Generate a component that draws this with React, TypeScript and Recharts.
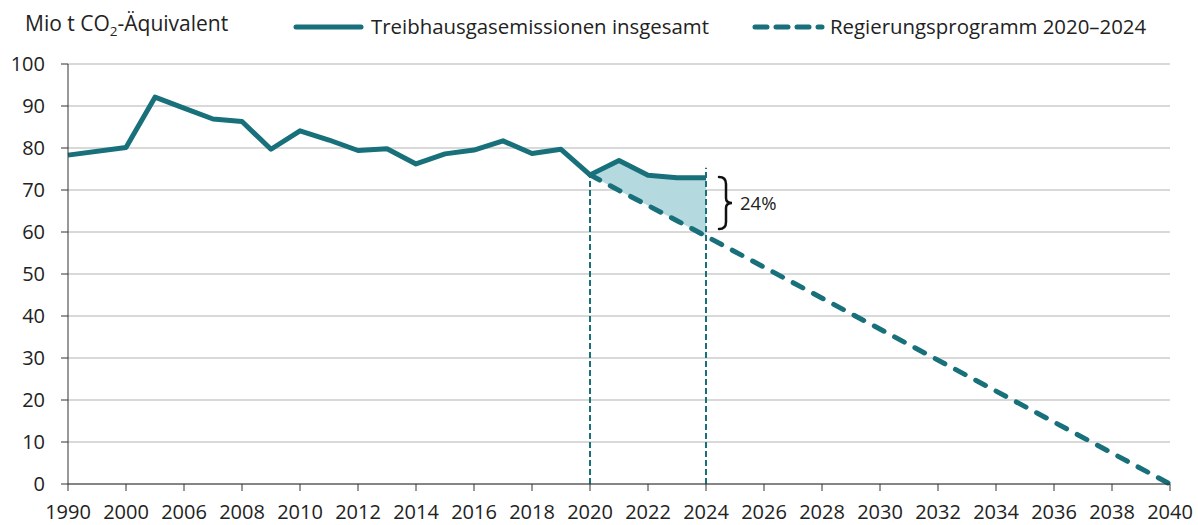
import React from 'react';
import {
  ComposedChart,
  Line,
  Area,
  XAxis,
  YAxis,
  CartesianGrid,
  ReferenceLine,
  ReferenceDot,
} from 'recharts';

const years = [
  '1990', '1995', '2000', '2005', '2006', '2007', '2008', '2009', '2010', '2011',
  '2012', '2013', '2014', '2015', '2016', '2017', '2018', '2019', '2020', '2021',
  '2022', '2023', '2024', '2025', '2026', '2027', '2028', '2029', '2030', '2031',
  '2032', '2033', '2034', '2035', '2036', '2037', '2038', '2039', '2040',
];

const emissions: (number | null)[] = [
  78.3, null, 80.1, 92.1, 89.5, 86.9, 86.3, 79.7, 84.1, 81.9,
  79.4, 79.8, 76.2, 78.6, 79.5, 81.7, 78.7, 79.7, 73.6, 77.0,
  73.5, 72.9, 72.9, null, null, null, null, null, null, null,
  null, null, null, null, null, null, null, null, null,
];

const target: (number | null)[] = [
  null, null, null, null, null, null, null, null, null, null,
  null, null, null, null, null, null, null, null, 73.6, 69.9,
  66.3, 62.7, 59.0, null, null, null, null, null, null, null,
  null, null, null, null, null, null, null, null, 0,
];

const gapYears = ['2020', '2021', '2022', '2023', '2024'];
const markerYears = ['2020', '2024'];
const markerTops = [73.6, 75.3];
const yTicks = [0, 10, 20, 30, 40, 50, 60, 70, 80, 90, 100];
const gapLabel = '24%';
const braceAt = { year: '2024', value: 66.9 };

const data = years.map((year, i) => ({
  year,
  emissions: emissions[i],
  target: target[i],
  band:
    gapYears.includes(year) && emissions[i] != null && target[i] != null
      ? [target[i] as number, emissions[i] as number]
      : null,
}));

const TEAL = '#17707a';
const FONT = '"Open Sans", "Noto Sans", sans-serif';
const TEXT = '#222';

const Brace = (props: any) => {
  const { cx, cy } = props;
  if (cx == null || cy == null) return null;
  const x0 = cx + 13;
  const h = 26;
  const d = `M ${x0} ${cy - h} Q ${x0 + 7} ${cy - h} ${x0 + 7} ${cy - h + 7} L ${x0 + 7} ${cy - 5} Q ${x0 + 7} ${cy} ${x0 + 13} ${cy} Q ${x0 + 7} ${cy} ${x0 + 7} ${cy + 5} L ${x0 + 7} ${cy + h - 7} Q ${x0 + 7} ${cy + h} ${x0} ${cy + h}`;
  return (
    <g>
      <path d={d} fill="none" stroke="#111" strokeWidth={2.5} strokeLinecap="round" />
      <text x={cx + 34} y={cy + 7} fontSize={18.5} fontFamily={FONT} fill={TEXT}>
        {gapLabel}
      </text>
    </g>
  );
};

export default function App() {
  return (
    <div style={{ position: 'absolute', left: 0, top: 0, width: 1198, height: 525, background: '#fff' }}>
      <svg width={1198} height={50} style={{ position: 'absolute', left: 0, top: 0 }}>
        <text x={25} y={31} fontSize={21} fontFamily={FONT} fill={TEXT}>
          Mio t CO
          <tspan fontSize={13.5} dy={5}>2</tspan>
          <tspan dy={-5}>-Äquivalent</tspan>
        </text>
        <line x1={296} y1={27} x2={361} y2={27} stroke={TEAL} strokeWidth={5} strokeLinecap="round" />
        <text x={371} y={34} fontSize={20.4} fontFamily={FONT} fill={TEXT}>
          Treibhausgasemissionen insgesamt
        </text>
        <line
          x1={755}
          y1={27}
          x2={822}
          y2={27}
          stroke={TEAL}
          strokeWidth={5}
          strokeLinecap="round"
          strokeDasharray="12 9"
        />
        <text x={830} y={34} fontSize={20.4} fontFamily={FONT} fill={TEXT}>
          Regierungsprogramm 2020–2024
        </text>
      </svg>
      <ComposedChart
        width={1198}
        height={525}
        data={data}
        margin={{ top: 64, right: 28, bottom: 0, left: 0 }}
        style={{ position: 'absolute', left: 0, top: 0 }}
      >
        <CartesianGrid vertical={false} stroke="#d9d9d9" strokeWidth={2} />
        <XAxis
          dataKey="year"
          interval={1}
          height={41}
          tickSize={7}
          tickMargin={14}
          axisLine={{ stroke: '#333' }}
          tickLine={{ stroke: '#333' }}
          tick={{ fontSize: 20, fontFamily: FONT, fill: TEXT }}
          padding={{ left: 0, right: 0 }}
        />
        <YAxis
          domain={[0, 100]}
          ticks={yTicks}
          width={68}
          tickSize={7}
          tickMargin={16}
          axisLine={{ stroke: '#333' }}
          tickLine={{ stroke: '#333' }}
          tick={{ fontSize: 20, fontFamily: FONT, fill: TEXT }}
          interval={0}
        />
        <Area
          dataKey="band"
          stroke="none"
          fill="#b4d9de"
          fillOpacity={1}
          isAnimationActive={false}
          connectNulls={false}
          activeDot={false}
          dot={false}
        />
        {markerYears.map((y, i) => (
          <ReferenceLine
            key={y}
            segment={[
              { x: y, y: 0 },
              { x: y, y: markerTops[i] },
            ]}
            stroke={TEAL}
            strokeWidth={2}
            strokeDasharray="6 3"
          />
        ))}
        <Line
          dataKey="target"
          stroke={TEAL}
          strokeWidth={5}
          strokeDasharray="11 12"
          strokeLinecap="round"
          dot={false}
          activeDot={false}
          connectNulls
          isAnimationActive={false}
          type="linear"
        />
        <Line
          dataKey="emissions"
          stroke={TEAL}
          strokeWidth={5}
          strokeLinejoin="round"
          dot={false}
          activeDot={false}
          connectNulls
          isAnimationActive={false}
          type="linear"
        />
        <ReferenceDot x={braceAt.year} y={braceAt.value} r={0} shape={Brace} />
      </ComposedChart>
    </div>
  );
}
